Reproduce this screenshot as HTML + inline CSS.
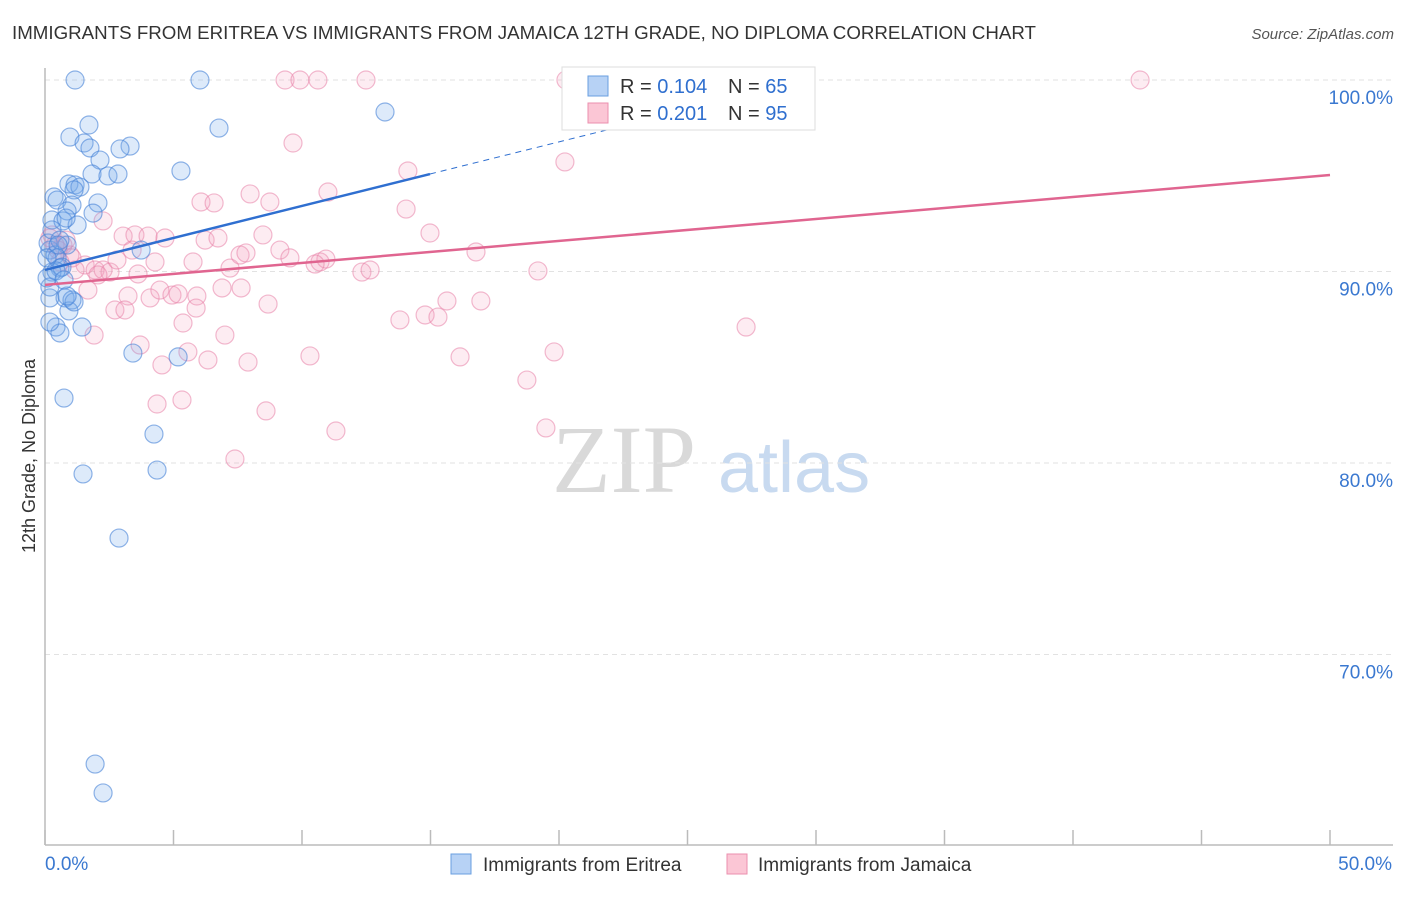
<!DOCTYPE html>
<html><head><meta charset="utf-8"><style>
body{margin:0;background:#fff;font-family:"Liberation Sans",sans-serif}
</style></head><body>
<svg id="chart" width="1406" height="892" xmlns="http://www.w3.org/2000/svg" font-family="Liberation Sans, sans-serif">
<text x="12" y="39" font-size="18" fill="#333" textLength="1024" lengthAdjust="spacingAndGlyphs">IMMIGRANTS FROM ERITREA VS IMMIGRANTS FROM JAMAICA 12TH GRADE, NO DIPLOMA CORRELATION CHART</text>
<text x="1394" y="39" font-size="15" fill="#555" text-anchor="end" font-style="italic">Source: ZipAtlas.com</text>
<text x="552" y="492" font-size="96" font-family="Liberation Serif, serif" fill="#d9d9d9">ZIP</text>
<text x="718" y="492" font-size="72" fill="#c8daf0">atlas</text>
<text transform="translate(35,456) rotate(-90)" font-size="18" fill="#333" text-anchor="middle">12th Grade, No Diploma</text>
<g id="grid"></g><g id="axes"></g><g id="pts"></g><g id="trend"></g>
<g>
<rect x="562" y="67" width="253" height="63" fill="#fff" stroke="#ddd"/>
<rect x="588" y="76" width="20" height="20" fill="#b7d2f5" stroke="#6a9fe0"/>
<text x="620" y="93" font-size="20" fill="#333">R = <tspan fill="#2f6fcf">0.104</tspan></text>
<text x="728" y="93" font-size="20" fill="#333">N = <tspan fill="#2f6fcf">65</tspan></text>
<rect x="588" y="103" width="20" height="20" fill="#fbc6d5" stroke="#eb8fae"/>
<text x="620" y="120" font-size="20" fill="#333">R = <tspan fill="#2f6fcf">0.201</tspan></text>
<text x="728" y="120" font-size="20" fill="#333">N = <tspan fill="#2f6fcf">95</tspan></text>
</g>
<g>
<rect x="451" y="854" width="20" height="20" fill="#b7d2f5" stroke="#6a9fe0"/>
<text x="483" y="871" font-size="19" fill="#333">Immigrants from Eritrea</text>
<rect x="727" y="854" width="20" height="20" fill="#fbc6d5" stroke="#eb8fae"/>
<text x="758" y="871" font-size="19" fill="#333">Immigrants from Jamaica</text>
</g>
</svg>
<script>
const yTicks=[100,90,80,70];
const yTickLabels=["100.0%","90.0%","80.0%","70.0%"];
const xTickVals=[0,5,10,15,20,25,30,35,40,45,50];
const xEndLabels=["0.0%","50.0%"];
const eritreaX=[1.17,6.03,13.23,6.77,1.71,0.97,1.52,1.75,3.31,2.92,2.14,5.29,1.83,2.45,2.84,0.93,1.17,1.36,1.13,0.35,0.47,1.05,2.06,1.87,0.86,0.27,0.70,1.25,0.82,0.86,0.19,0.39,0.47,0.58,0.27,0.19,0.78,1.05,0.93,0.43,0.58,1.44,0.19,3.42,5.18,0.74,4.24,4.36,1.48,2.88,1.95,2.26,3.74,0.12,0.27,0.66,0.08,0.19,1.13,0.58,0.51,0.08,0.86,0.43,0.74];
const eritreaY=[100,100,98.33,97.49,97.65,97.02,96.71,96.45,96.55,96.40,95.82,95.25,95.09,94.99,95.09,94.57,94.52,94.41,94.26,93.89,93.73,93.47,93.58,93.05,93.16,92.69,92.64,92.43,92.79,91.38,91.12,90.86,90.71,90.18,89.97,88.62,88.62,88.51,87.94,87.10,86.79,87.10,87.36,85.74,85.54,83.39,81.51,79.63,79.43,76.08,64.28,62.77,91.12,91.49,92.17,90.23,90.71,89.19,88.41,91.64,91.38,89.66,88.72,90.03,89.56];
const jamaicaX=[9.34,9.92,10.62,12.49,20.27,42.61,9.65,20.23,14.12,11.01,7.98,6.07,6.58,8.75,14.05,2.26,14.98,3.04,3.50,4.01,4.67,6.23,6.73,8.48,9.14,9.53,10.70,10.93,16.77,3.39,4.28,5.76,7.20,7.59,7.82,10.51,12.33,12.65,19.18,0.70,0.97,1.56,1.95,2.26,2.53,2.80,3.62,2.06,1.17,1.67,3.23,4.09,4.47,4.94,5.18,5.91,6.89,7.63,8.68,15.64,16.96,2.72,3.11,5.88,5.37,7.00,13.81,14.79,15.29,27.28,1.91,3.70,5.56,4.55,6.34,7.90,10.31,16.15,19.81,18.75,4.36,5.33,8.60,11.32,19.49,7.39,0.82,0.27,0.51,1.05,0.58,0.39,0.19,25.8];
const jamaicaY=[100,100,100,100,100,100,96.71,95.72,95.25,94.15,94.05,93.63,93.58,93.63,93.26,92.64,92.01,91.85,91.91,91.85,91.75,91.64,91.75,91.91,91.12,90.71,90.50,90.65,91.02,91.12,90.50,90.50,90.18,90.86,90.97,90.39,89.97,90.08,90.03,91.38,90.86,90.34,90.08,90.08,89.97,90.60,89.87,89.82,90.08,89.03,88.72,88.62,89.03,88.77,88.83,88.72,89.14,89.14,88.30,88.46,88.46,87.99,87.99,88.09,87.31,86.68,87.47,87.73,87.62,87.10,86.68,86.16,85.80,85.12,85.38,85.27,85.59,85.54,85.80,84.33,83.08,83.29,82.72,81.67,81.83,80.21,91.64,91.91,91.12,90.71,90.50,91.38,91.75,98.07];
const eritreaTrend=[0,90.08,14.98,95.09,26.3];
const jamaicaTrend=[0,89.3,50,95.04];
const NS="http://www.w3.org/2000/svg";
const sx=v=>45+v*25.7, sy=v=>80+(100-v)*19.15;
function mk(tag,attrs,parent){const e=document.createElementNS(NS,tag);for(const k in attrs)e.setAttribute(k,attrs[k]);document.getElementById(parent).appendChild(e);return e;}
yTicks.forEach((t,i)=>{
 const l=mk('line',{x1:45,x2:1393,y1:sy(t),y2:sy(t),stroke:'#e2e2e2','stroke-dasharray':'5,4'},'grid');
 
 
 const tx=mk('text',{x:1393,y:sy(t)+24,'font-size':19,fill:'#3a78d0','text-anchor':'end'},'grid');
 tx.textContent=yTickLabels[i];
 
 
});
const ya=mk('line',{x1:45,x2:45,y1:68,y2:845,stroke:'#bbb','stroke-width':1.5},'axes');


const xa=mk('line',{x1:45,x2:1393,y1:845,y2:845,stroke:'#bbb','stroke-width':1.5},'axes');


xTickVals.forEach(v=>{const t=mk('line',{x1:sx(v),x2:sx(v),y1:830,y2:845,stroke:'#bbb','stroke-width':1.5},'axes');
 
 });
[[0,'start'],[50,'end']].forEach((p,i)=>{const t=mk('text',{x:sx(p[0])+(i?62:0),y:870,'font-size':19,fill:'#3a78d0','text-anchor':p[1]},'axes');t.textContent=xEndLabels[i];
 
 });
jamaicaX.forEach((x,i)=>{const c=mk('circle',{cx:sx(x),cy:sy(jamaicaY[i]),r:9,fill:'rgba(245,160,190,0.2)',stroke:'rgba(232,130,168,0.55)','stroke-width':1.2},'pts');
 
 });
eritreaX.forEach((x,i)=>{const c=mk('circle',{cx:sx(x),cy:sy(eritreaY[i]),r:9,fill:'rgba(120,170,235,0.25)',stroke:'rgba(70,130,215,0.6)','stroke-width':1.2},'pts');
 
 });
const slope=(eritreaTrend[3]-eritreaTrend[1])/(eritreaTrend[2]-eritreaTrend[0]);
const b1=mk('line',{x1:sx(eritreaTrend[0]),y1:sy(eritreaTrend[1]),x2:sx(eritreaTrend[2]),y2:sy(eritreaTrend[3]),stroke:'#2f6fd0','stroke-width':2.5},'trend');


const b2=mk('line',{x1:sx(eritreaTrend[2]),y1:sy(eritreaTrend[3]),x2:sx(eritreaTrend[4]),y2:sy(eritreaTrend[3]+slope*(eritreaTrend[4]-eritreaTrend[2])),stroke:'#2f6fd0','stroke-width':1,'stroke-dasharray':'6,5'},'trend');


const p1=mk('line',{x1:sx(jamaicaTrend[0]),y1:sy(jamaicaTrend[1]),x2:sx(jamaicaTrend[2]),y2:sy(jamaicaTrend[3]),stroke:'#e06590','stroke-width':2.5},'trend');


</script>
</body></html>
